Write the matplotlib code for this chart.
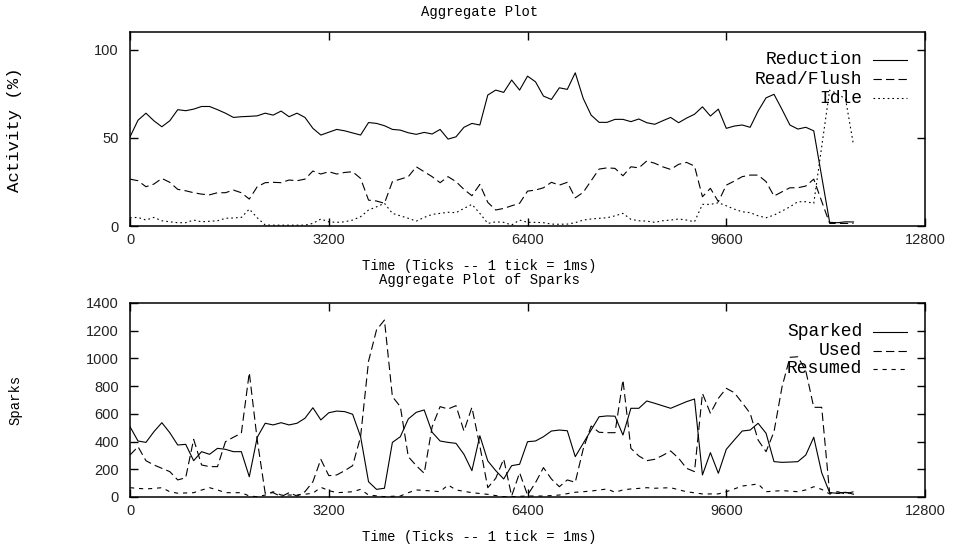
import matplotlib
matplotlib.use("Agg")
import matplotlib.pyplot as plt

# sample clock (ticks), one sample every 128 ticks
tick_times = [
    0, 128, 256, 384, 512, 640, 768, 896, 1024, 1152,
    1280, 1408, 1536, 1664, 1792, 1920, 2048, 2176, 2304, 2432,
    2560, 2688, 2816, 2944, 3072, 3200, 3328, 3456, 3584, 3712,
    3840, 3968, 4096, 4224, 4352, 4480, 4608, 4736, 4864, 4992,
    5120, 5248, 5376, 5504, 5632, 5760, 5888, 6016, 6144, 6272,
    6400, 6528, 6656, 6784, 6912, 7040, 7168, 7296, 7424, 7552,
    7680, 7808, 7936, 8064, 8192, 8320, 8448, 8576, 8704, 8832,
    8960, 9088, 9216, 9344, 9472, 9600, 9728, 9856, 9984, 10112,
    10240, 10368, 10496, 10624, 10752, 10880, 11008, 11136, 11264, 11392,
    11520, 11648,
]

# activity (%)
reduction = [
    50.6, 60, 64, 59.7, 56.3, 59.7, 66, 65.4, 66.3, 67.8,
    67.8, 66, 64, 61.6, 62, 62.2, 62.5, 64, 62.9, 65.2,
    62, 64, 61.6, 55.4, 51.6, 53.2, 54.8, 54, 52.8, 51.6,
    58.7, 58.2, 56.9, 54.8, 54.4, 52.9, 52, 53.1, 52.2, 54.8,
    49.3, 50.6, 56, 58.2, 57.3, 74.3, 77.1, 75.8, 82.8, 77.1,
    85, 81.8, 73.7, 71.8, 78.4, 77.5, 86.9, 72.4, 62.9, 58.8,
    58.8, 60.5, 60.5, 59.2, 60.7, 58.6, 57.7, 59.7, 61.6, 58.6,
    61.2, 63.4, 67.6, 62.4, 66.3, 55.4, 56.7, 57.3, 56, 65.2,
    72.7, 74.7, 66.2, 57.3, 55, 56, 54, 28, 2.1, 1.9,
    2.4, 2.3,
]
read_flush = [
    26.6, 25.7, 22.3, 23.8, 27, 24.8, 20.8, 20, 18.9, 18.1,
    17.7, 18.9, 18.9, 20.4, 18.9, 15.3, 22.3, 24.6, 24.8, 24.6,
    26.1, 25.7, 26.6, 31.2, 29.5, 30.8, 29.5, 30.4, 30.8, 27,
    14.7, 14.2, 12.9, 25.2, 26.6, 28, 33.6, 30.8, 28, 24.6,
    28, 25.2, 20.8, 17.2, 23.6, 13.4, 9.1, 10, 11.5, 12.9,
    19.8, 20.4, 21.7, 24.8, 23.2, 24.8, 16, 19.1, 25.7, 32.3,
    33, 32.7, 28.5, 33.6, 33, 36.9, 35.6, 33.6, 32.1, 35,
    36.1, 34, 16.6, 21.4, 13.8, 23.2, 25.5, 28, 28.9, 28.9,
    25.2, 17, 19.4, 21.7, 21.7, 22.7, 26.6, 14, 1.5, 1.5,
    1.5, 1.5,
]
idle = [
    4.7, 4.9, 3.4, 4.9, 3, 2.4, 1.9, 1.9, 3.4, 2.4,
    2.7, 3, 4.4, 4.6, 4.9, 9.6, 4.7, 0.6, 0.5, 0.5,
    0.5, 0.5, 0.5, 1.5, 4, 2.4, 2.1, 2.4, 3.4, 5.3,
    9.1, 10.9, 12.9, 7.2, 5.8, 4.4, 2.8, 4.9, 6.6, 7.2,
    7.8, 7.6, 10, 12.3, 7.2, 1.5, 2.4, 2.1, 0.6, 3.4,
    2.1, 2.1, 1.9, 1.1, 1, 1.1, 1.9, 3.4, 4, 4.4,
    4.7, 5.8, 7.2, 3.8, 3, 2.8, 2.1, 3, 3.4, 4,
    3.4, 2.4, 12.3, 12.3, 13.2, 11.5, 9.6, 8.1, 7.6, 5.8,
    4.7, 6.2, 8.5, 10.9, 13.8, 13.8, 12.9, 45, 77, 75,
    72, 46,
]

# spark counts
sparked = [
    507, 404, 394, 471, 536, 464, 375, 380, 262, 327,
    308, 351, 344, 327, 327, 146, 431, 532, 520, 536,
    520, 532, 568, 644, 556, 608, 620, 616, 597, 435,
    110, 55, 63, 394, 435, 563, 611, 628, 467, 404,
    394, 387, 308, 190, 442, 260, 190, 130, 226, 236,
    399, 404, 435, 476, 483, 478, 291, 387, 483, 579,
    585, 583, 447, 640, 640, 693, 676, 658, 640, 664,
    688, 707, 159, 320, 171, 344, 411, 476, 483, 532,
    460, 255, 250, 252, 255, 303, 431, 175, 31, 27,
    34, 20,
]
used = [
    303, 363, 262, 231, 207, 183, 123, 139, 416, 231,
    219, 219, 399, 431, 460, 897, 411, 27, 31, 2,
    31, 7, 38, 110, 272, 154, 159, 190, 226, 435,
    980, 1205, 1277, 724, 652, 291, 226, 171, 507, 652,
    635, 659, 476, 647, 368, 67, 135, 274, 7, 175,
    14, 103, 212, 130, 74, 123, 106, 346, 512, 467,
    464, 464, 844, 351, 296, 262, 272, 300, 332, 280,
    207, 183, 748, 604, 712, 784, 753, 680, 604, 411,
    327, 471, 792, 1008, 1012, 911, 647, 647, 27, 38,
    22, 38,
]
resumed = [
    67, 62, 58, 62, 67, 38, 27, 29, 31, 50,
    67, 51, 31, 31, 31, 7, 2, 14, 38, 14,
    14, 14, 20, 27, 70, 46, 31, 34, 38, 55,
    14, 8, 2, 5, 7, 31, 51, 47, 43, 38,
    87, 51, 41, 31, 25, 19, 10, 2, 2, 5,
    7, 7, 7, 10, 14, 24, 34, 38, 43, 50,
    58, 34, 51, 58, 62, 67, 63, 65, 67, 52,
    38, 30, 22, 22, 22, 38, 58, 79, 86, 94,
    38, 42, 46, 42, 38, 51, 74, 55, 22, 26,
    31, 31,
]

x_ticks = [0, 3200, 6400, 9600, 12800]
top_yticks = [0, 50, 100]
bottom_yticks = [0, 200, 400, 600, 800, 1000, 1200, 1400]

plt.rcParams['lines.scale_dashes'] = False
mono = 'Liberation Mono'
sans = 'Liberation Sans'

solid = '-'
long_dash = (0, (6, 3))
dots = (0, (1.2, 2.2))
short_dash = (0, (3, 3.5))

fig = plt.figure(figsize=(9.59, 5.5), dpi=100)
ax1 = fig.add_axes([0.1356, 0.589, 0.829, 0.3527])
ax2 = fig.add_axes([0.1356, 0.0964, 0.829, 0.3527])


def style_axis(ax, yticks, ymax):
    ax.set_xlim(0, 12800)
    ax.set_ylim(0, ymax)
    ax.set_xticks(x_ticks)
    ax.set_yticks(yticks)
    ax.tick_params(direction='in', length=5.5, width=1.0, top=True, right=True,
                   labelsize=10.5, colors='black')
    ax.tick_params(axis='y', pad=8)
    ax.tick_params(axis='x', pad=5)
    for lab in ax.get_xticklabels() + ax.get_yticklabels():
        lab.set_fontfamily(sans)
        lab.set_color('#222222')
    for s in ax.spines.values():
        s.set_linewidth(1.1)


def legend_row(ax, label, ls, ypos):
    ax.text(0.921, ypos, label, transform=ax.transAxes, ha='right', va='center',
            fontfamily=mono, fontsize=13)
    ax.plot([0.935, 0.977], [ypos, ypos], transform=ax.transAxes, color='black',
            lw=0.8, linestyle=ls, clip_on=False)


# activity plot
ax1.plot(tick_times, reduction, color='black', lw=0.8, linestyle=solid)
ax1.plot(tick_times, read_flush, color='black', lw=0.8, linestyle=long_dash)
ax1.plot(tick_times, idle, color='black', lw=0.8, linestyle=dots)
style_axis(ax1, top_yticks, 110)
legend_row(ax1, 'Reduction', solid, 0.856)
legend_row(ax1, 'Read/Flush', long_dash, 0.758)
legend_row(ax1, 'Idle', dots, 0.660)

# spark plot
ax2.plot(tick_times, sparked, color='black', lw=0.8, linestyle=solid)
ax2.plot(tick_times, used, color='black', lw=0.8, linestyle=long_dash)
ax2.plot(tick_times, resumed, color='black', lw=0.8, linestyle=short_dash)
style_axis(ax2, bottom_yticks, 1400)
legend_row(ax2, 'Sparked', solid, 0.851)
legend_row(ax2, 'Used', long_dash, 0.753)
legend_row(ax2, 'Resumed', short_dash, 0.660)

# titles and axis labels
fig.text(0.5, 1 - 12 / 550, 'Aggregate Plot', ha='center', va='center',
         fontfamily=mono, fontsize=10)
fig.text(0.5, 1 - 266 / 550, 'Time (Ticks -- 1 tick = 1ms)', ha='center', va='center',
         fontfamily=mono, fontsize=10)
fig.text(0.5, 1 - 280 / 550, 'Aggregate Plot of Sparks', ha='center', va='center',
         fontfamily=mono, fontsize=10)
fig.text(0.5, 1 - 537 / 550, 'Time (Ticks -- 1 tick = 1ms)', ha='center', va='center',
         fontfamily=mono, fontsize=10)
fig.text(15 / 959, 1 - 130 / 550, 'Activity (%)', rotation=90, ha='center', va='center',
         fontfamily=mono, fontsize=12.5)
fig.text(15 / 959, 1 - 400 / 550, 'Sparks', rotation=90, ha='center', va='center',
         fontfamily=mono, fontsize=10)

fig.savefig('out.png', dpi=100)
